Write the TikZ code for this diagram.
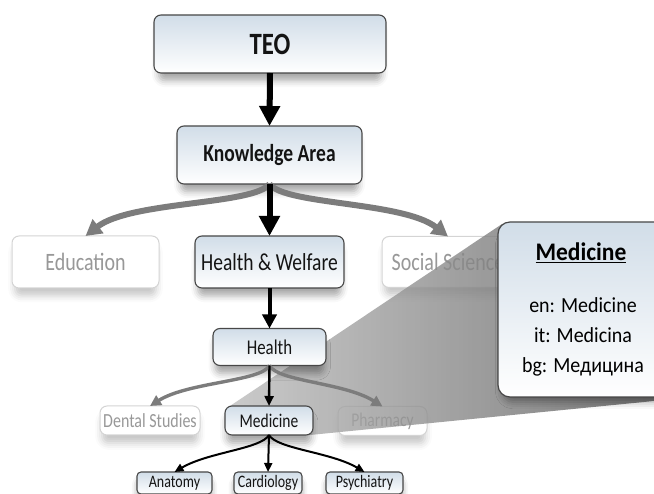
\documentclass[tikz,border=0pt]{standalone}
\usepackage{fontspec}
\setmainfont{Carlito}[FakeStretch=0.8]
\newfontfamily\detailfont{Carlito}[FakeStretch=0.93]
\usetikzlibrary{arrows.meta,shadows.blur}

\definecolor{boxtop}{HTML}{D1DDE8}
\definecolor{boxline}{HTML}{474747}
\definecolor{fadeline}{HTML}{D4D4D4}
\definecolor{fadetext}{HTML}{989898}
\definecolor{linkgray}{HTML}{7C7C7C}

\newcommand\fsz[1]{\fontsize{#1}{#1}\selectfont}

\tikzset{
  every node/.style={inner sep=0pt, outer sep=0pt},
  softshadow/.style={blur shadow={shadow xshift=0pt, shadow yshift=-9pt,
      shadow scale=0.96, shadow blur radius=7pt, shadow opacity=#1}},
  termbox/.style={draw=boxline, line width=1.1pt, top color=boxtop,
      bottom color=white, rounded corners=7pt, text=black!92, softshadow=35},
  smallterm/.style={termbox, rounded corners=4pt, softshadow=25},
  fadebox/.style={draw=fadeline, line width=1pt, fill=white,
      rounded corners=7pt, text=fadetext, softshadow=22},
  calloutbox/.style={draw=boxline, line width=1.2pt, top color=boxtop,
      bottom color=white, rounded corners=12pt, softshadow=35},
  bigarrow/.style={line width=6pt, -{Triangle[length=20pt,width=20pt]}},
  midarrow/.style={line width=4pt, -{Triangle[length=14pt,width=14pt]}},
  thinarrow/.style={line width=2.4pt, -{Triangle[length=10pt,width=9pt]}},
  graybig/.style={draw=linkgray, line width=6pt, -{Triangle[length=16pt,width=17pt]}},
  graysmall/.style={draw=linkgray, line width=3.4pt, -{Triangle[length=11pt,width=11pt]}},
  leafarrow/.style={line width=2pt, -{Triangle[length=9pt,width=8pt]}},
}

\begin{document}
\begin{tikzpicture}[x=1pt,y=-1pt]
\useasboundingbox (0,0) rectangle (654,494);
\clip (0,0) rectangle (654,494);

% sibling terms shown greyed out
\node[fadebox, minimum width=147pt, minimum height=52pt, font=\fsz{25}] (edu) at (85.5,262) {Education};
\node[fadebox, minimum width=132pt, minimum height=51pt, font=\fsz{25}] (soc) at (448,262) {Social Science};
\node[fadebox, minimum width=100pt, minimum height=29pt, font=\fsz{20}] (dental) at (150,420.5) {Dental Studies};
\node[fadebox, minimum width=89pt, minimum height=29pt, font=\fsz{19.4}] (pharm) at (382.5,421) {Pharmacy};

% projection from the selected term to its detail box
\shade[left color=black!26, right color=black!64, fill opacity=0.8]
  (230,406) -- (502,224) -- (654,224) -- (654,401) -- (310,435) -- cycle;

% main branch
\node[termbox, minimum width=232pt, minimum height=58pt, font=\fsz{31}\bfseries] (teo) at (270,44) {TEO};
\node[termbox, minimum width=185pt, minimum height=58pt, font=\fsz{24.4}\bfseries] (ka) at (269.5,155) {Knowledge Area};
\node[termbox, minimum width=149pt, minimum height=52pt, font=\fsz{24.4}] (hw) at (269.5,262) {Health \& Welfare};
\node[termbox, minimum width=113pt, minimum height=37pt, font=\fsz{21}] (health) at (269.5,347) {Health};
\node[termbox, minimum width=88pt, minimum height=29pt, font=\fsz{19.4}] (med) at (269,420.5) {Medicine};

% leaves
\node[smallterm, minimum width=75pt, minimum height=22pt, font=\fsz{17.5}] (anat) at (174.5,483) {Anatomy};
\node[smallterm, minimum width=68pt, minimum height=22pt, font=\fsz{17.5}] (card) at (268,483) {Cardiology};
\node[smallterm, minimum width=77pt, minimum height=22pt, font=\fsz{17.5}] (psych) at (364.5,483) {Psychiatry};

% connectors: grey side branches first, the main path on top
\draw[graybig] (ka.south) .. controls +(-15,21) and +(45,-35) .. (edu.north);
\draw[graybig] (ka.south) .. controls +(15,21) and +(-45,-35) .. (soc.north);
\draw[graysmall] (health.south) .. controls +(-8,16) and +(38,-24) .. (dental.north);
\draw[graysmall] (health.south) .. controls +(8,16) and +(-38,-24) .. (pharm.north);
\draw[bigarrow] (teo.south) -- (ka.north);
\draw[bigarrow] (ka.south) -- (hw.north);
\draw[midarrow] (hw.south) -- (health.north);
\draw[thinarrow] (health.south) -- (med.north);
\draw[leafarrow] (med.south) .. controls +(-8,14) and +(34,-20) .. (anat.north);
\draw[leafarrow] (med.south) -- (card.north);
\draw[leafarrow] (med.south) .. controls +(8,14) and +(-34,-20) .. (psych.north);

% detail box with the term's labels
\node[calloutbox, anchor=north west, minimum width=200pt, minimum height=175pt] (detail) at (498,222) {};
\node[font=\detailfont\fsz{25.3}\bfseries] (detailtitle) at (581,253) {\underline{Medicine}};
\node[font=\detailfont\fontsize{21.5}{30}\selectfont, align=center] (detailterms) at (583,337)
  {en: Medicine\\it: Medicina\\bg: Медицина};
\end{tikzpicture}
\end{document}
